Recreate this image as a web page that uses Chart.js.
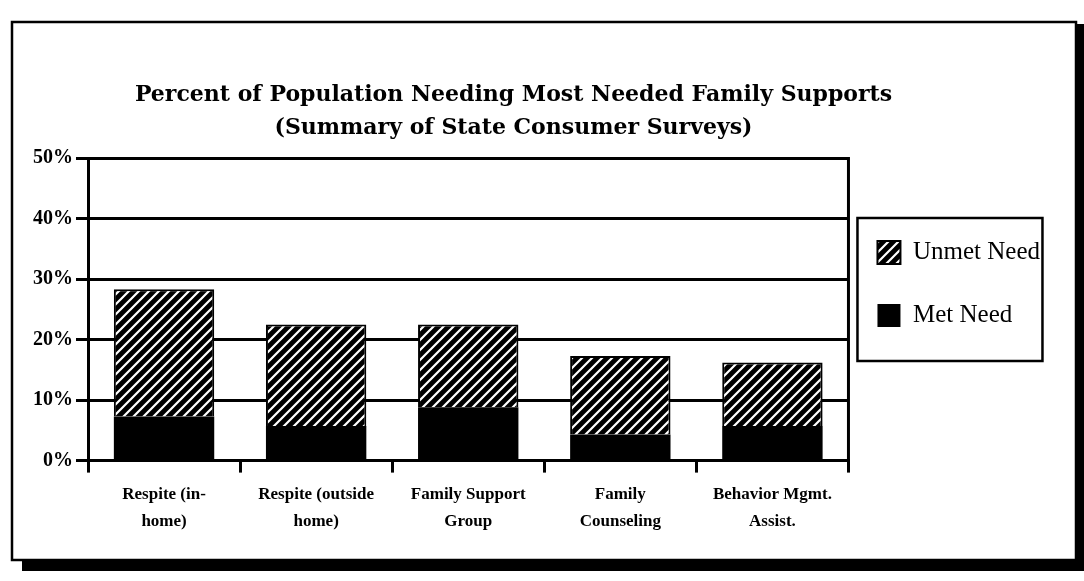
<!DOCTYPE html>
<html>
<head>
<meta charset="utf-8">
<script src="https://cdn.jsdelivr.net/npm/chart.js@4/dist/chart.umd.min.js"></script>
<style>
html,body{margin:0;padding:0;background:#fff;}
#wrap{width:1084px;height:581px;position:relative;}
</style>
</head>
<body>
<div id="wrap"><canvas id="chart"></canvas></div>
<script>
//data
var categories = [['Respite (in-','home)'], ['Respite (outside','home)'], ['Family Support','Group'], ['Family','Counseling'], ['Behavior Mgmt.','Assist.']];
var metNeed = [7.3, 5.7, 8.8, 4.3, 5.7];
var unmetNeed = [21.0, 16.8, 13.7, 13.0, 10.5];
var yMax = 50, yStep = 10;
var titleLines = ['Percent of Population Needing Most Needed Family Supports', '(Summary of State Consumer Surveys)'];

var serif = '"Liberation Serif", "Times New Roman", serif';
var wideserif = '"DejaVu Serif", serif';

//diagonal hatch, white slashes on black
function makehatch(){
  var c = document.createElement('canvas');
  c.width = 10; c.height = 10;
  var g = c.getContext('2d');
  g.fillStyle = '#000';
  g.fillRect(0, 0, 10, 10);
  g.strokeStyle = '#fff';
  g.lineWidth = 2.2;
  g.beginPath();
  g.moveTo(-5, 5); g.lineTo(5, -5);
  g.moveTo(0, 10); g.lineTo(10, 0);
  g.moveTo(5, 15); g.lineTo(15, 5);
  g.stroke();
  return g.createPattern(c, 'repeat');
}

//page frame, plot border, legend box
var frame = {
  id: 'frame',
  beforeDraw: function(chart){
    var ctx = chart.ctx;
    ctx.save();
    ctx.fillStyle = '#fff';
    ctx.fillRect(0, 0, chart.width, chart.height);
    ctx.fillStyle = '#000';
    ctx.fillRect(1075, 24, 9, 547);
    ctx.fillRect(22, 559, 1062, 12);
    ctx.strokeStyle = '#000';
    ctx.lineWidth = 2.5;
    ctx.strokeRect(12, 22, 1064, 538);
    ctx.restore();
  },
  afterLayout: function(chart){
    var lg = chart.legend, t = chart.titleBlock;
    lg.left -= 9; lg.right -= 9;
    lg.top += 44; lg.bottom += 44;
    //title sits left of the page centre in the scan
    t.left -= 31; t.right -= 31;
  },
  afterDraw: function(chart){
    var ctx = chart.ctx, a = chart.chartArea, lg = chart.legend;
    ctx.save();
    ctx.strokeStyle = '#000';
    ctx.lineWidth = 3;
    ctx.beginPath();
    ctx.moveTo(a.right, a.top - 1);
    ctx.lineTo(a.right, a.bottom + 1);
    ctx.stroke();
    ctx.lineWidth = 2.5;
    ctx.strokeRect(lg.left + 18, lg.top + 16, 185, 143);
    ctx.restore();
  }
};

var ctx = document.getElementById('chart').getContext('2d');
new Chart(ctx, {
  type: 'bar',
  data: {
    labels: categories,
    datasets: [
      { label: 'Met Need', data: metNeed, backgroundColor: '#000', borderWidth: 0,
        barPercentage: 0.66, categoryPercentage: 1 },
      { label: 'Unmet Need', data: unmetNeed, backgroundColor: makehatch(), borderColor: '#000', borderWidth: 2,
        barPercentage: 0.66, categoryPercentage: 1 }
    ]
  },
  options: {
    responsive: true,
    maintainAspectRatio: false,
    animation: false,
    layout: { padding: { top: 64, left: 30, right: 25, bottom: 38 } },
    plugins: {
      title: {
        display: true,
        text: titleLines,
        color: '#000',
        font: { family: wideserif, size: 22, weight: 'bold', lineHeight: 1.5 },
        padding: { top: 15, bottom: 13 }
      },
      legend: {
        position: 'right',
        align: 'start',
        fullSize: false,
        reverse: true,
        labels: {
          boxWidth: 23, boxHeight: 23, padding: 38, color: '#000',
          font: { family: serif, size: 25 }
        }
      },
      tooltip: { enabled: false }
    },
    scales: {
      x: {
        stacked: true,
        grid: { offset: true, drawOnChartArea: false, color: '#000', lineWidth: 3, tickLength: 12 },
        border: { color: '#000', width: 3 },
        ticks: { color: '#000', padding: 8, maxRotation: 0, autoSkip: false,
          font: { family: serif, size: 17, weight: 'bold', lineHeight: 1.6 } }
      },
      y: {
        stacked: true,
        min: 0,
        max: yMax,
        ticks: { stepSize: yStep, color: '#000', padding: 3,
          callback: function(v){ return v + '%'; },
          font: { family: serif, size: 20, weight: 'bold' } },
        grid: { color: '#000', lineWidth: 3, tickLength: 12 },
        border: { color: '#000', width: 3 }
      }
    }
  },
  plugins: [frame]
});
</script>
</body>
</html>
